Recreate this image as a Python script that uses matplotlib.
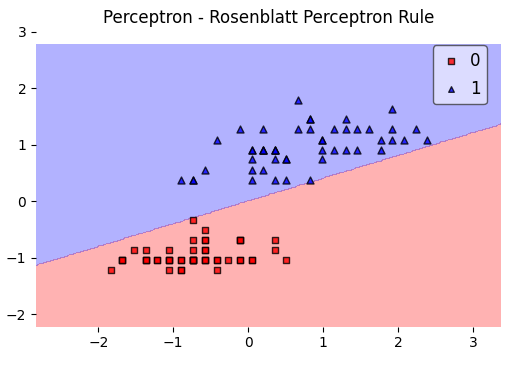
import numpy as np
import matplotlib
matplotlib.use("Agg")
import matplotlib.pyplot as plt
from matplotlib.colors import ListedColormap

# Class 0 (squares) - standardized feature values
class0_x = [-0.58, -0.89, -1.21, -1.36, -0.74, -0.11, -1.36, -0.74, -1.68, -0.89,
            -0.11, -1.05, -1.05, -1.83, 0.51, 0.36, -0.11, -0.58, 0.36, -0.58,
            -0.11, -0.58, -1.36, -0.58, -1.05, -0.74, -0.74, -0.42, -0.42, -1.21,
            -1.05, -0.11, -0.42, 0.05, -0.89, -0.74, 0.05, -0.89, -1.68, -0.58,
            -0.74, -1.52, -1.68, -0.74, -0.58, -1.05, -0.58, -1.36, -0.27, -0.74]
class0_y = [-1.04, -1.04, -1.04, -1.04, -1.04, -0.69, -0.86, -1.04, -1.04, -1.22,
            -1.04, -1.04, -1.22, -1.22, -1.04, -0.69, -0.69, -0.86, -0.86, -0.86,
            -1.04, -0.69, -1.04, -0.51, -1.04, -1.04, -0.69, -1.04, -1.04, -1.04,
            -1.04, -0.69, -1.22, -1.04, -1.04, -1.04, -1.04, -1.22, -1.04, -1.04,
            -0.86, -0.86, -1.04, -0.33, -0.69, -0.86, -1.04, -1.04, -1.04, -1.04]

# Class 1 (triangles)
class1_x = [2.39, 1.45, 2.24, 0.05, 1.61, 0.36, 1.30, -0.89, 1.77, -0.42,
            -0.74, 0.67, 0.83, 0.98, 0.20, 1.92, 0.20, 0.51, 1.14, 0.20,
            0.67, 0.98, 1.30, 0.98, 1.45, 1.77, 2.08, 1.92, 0.83, 0.36,
            0.05, 0.05, 0.51, 0.83, -0.11, 0.83, 1.92, 1.30, 0.20, 0.05,
            0.05, 0.98, 0.51, -0.74, 0.20, 0.36, 0.36, 1.14, -0.58, 0.36]
class1_y = [1.09, 1.27, 1.27, 0.91, 1.27, 0.91, 1.45, 0.38, 0.91, 1.09,
            0.38, 1.27, 0.38, 1.09, 0.91, 1.09, 1.27, 0.38, 1.27, 0.56,
            1.80, 0.91, 1.27, 0.74, 0.91, 1.09, 1.09, 1.63, 1.27, 0.38,
            0.56, 0.38, 0.74, 1.45, 1.27, 1.45, 1.27, 0.91, 0.91, 0.91,
            0.74, 1.09, 0.74, 0.38, 0.91, 0.74, 0.91, 0.91, 0.56, 0.91]

class_labels = ["0", "1"]
# Perceptron weights: bias, w1, w2  (class 1 where bias + w1*x + w2*y >= 0)
weights = [-0.005, -0.403, 1.0]

fig = plt.figure(figsize=(5.11, 3.70), dpi=100)
ax = fig.add_axes([36/511, 1 - 326.7/370, 465/511, 295/370])

x_min, x_max = min(class0_x + class1_x) - 1, max(class0_x + class1_x) + 1
y_min, y_max = min(class0_y + class1_y) - 1, max(class0_y + class1_y) + 1
xx1, xx2 = np.meshgrid(np.arange(x_min, x_max, 0.02), np.arange(y_min, y_max, 0.02))
Z = np.where(weights[0] + weights[1] * xx1 + weights[2] * xx2 >= 0, 1, 0)
cmap = ListedColormap(["red", "blue"])
ax.contourf(xx1, xx2, Z, levels=[-0.5, 0.5, 1.5], alpha=0.3, cmap=cmap,
            antialiased=False)

ax.scatter(class0_x, class0_y, s=25, c="red", marker="s", alpha=0.8,
           edgecolor="black", label=class_labels[0])
ax.scatter(class1_x, class1_y, s=25, c="blue", marker="^", alpha=0.8,
           edgecolor="black", label=class_labels[1])

ax.set_xlim(xx1.min(), xx1.max())
ax.set_ylim(y_min, 3.0)
ax.set_xticks([-2, -1, 0, 1, 2, 3])
ax.set_yticks([-2, -1, 0, 1, 2, 3])
for s in ax.spines.values():
    s.set_visible(False)
ax.set_title("Perceptron - Rosenblatt Perceptron Rule", fontsize=12)
leg = ax.legend(loc="upper right", fontsize=12, markerscale=0.8,
                handlelength=1.4, handletextpad=0.45, borderpad=0.38,
                labelspacing=0.6, borderaxespad=0,
                bbox_to_anchor=(486.7/511, 1 - 45.3/370),
                bbox_transform=fig.transFigure)
frame = leg.get_frame()
frame.set_alpha(None)
frame.set_facecolor((1, 1, 1, 0.55))
frame.set_edgecolor((0.35, 0.35, 0.4, 1.0))
fig.savefig("out.png", dpi=100)
